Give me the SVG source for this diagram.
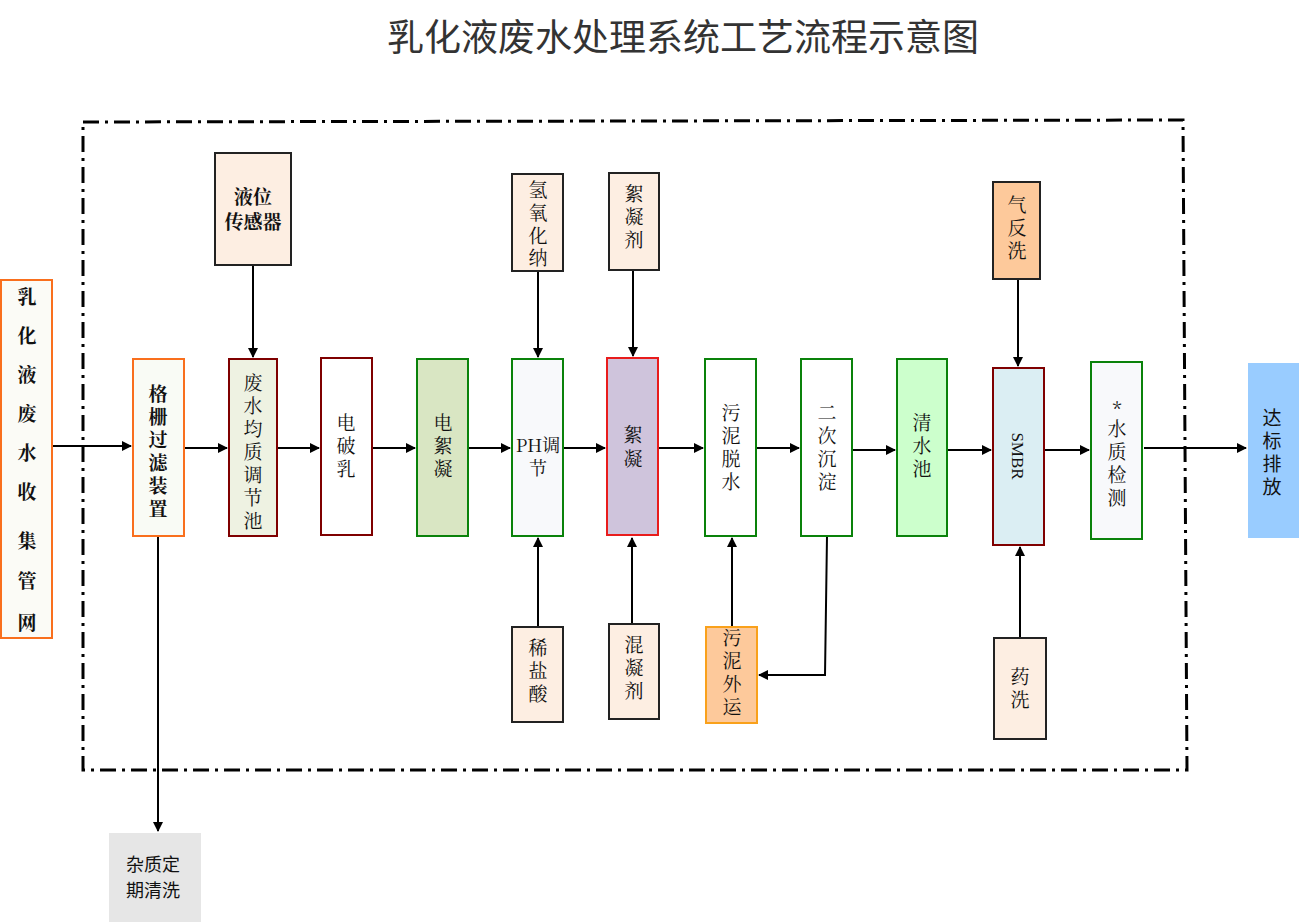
<svg xmlns="http://www.w3.org/2000/svg" width="1299" height="922" viewBox="0 0 1299 922">
<defs>
<marker id="ah" markerWidth="10" markerHeight="10" refX="9" refY="5" orient="auto" markerUnits="userSpaceOnUse"><path d="M0,0 L10,5 L0,10 z" fill="#000"/></marker>
<style>
text{font-family:"Noto Serif CJK SC","Noto Sans CJK SC",serif;font-size:19px;fill:#111;text-anchor:middle}
.c line,.c polyline{stroke:#000;stroke-width:2;fill:none;marker-end:url(#ah)}
rect{stroke-width:2}
.og{stroke:#f96f1d}.dr{stroke:#7f0000}.gr{stroke:#0a820a}.rd{stroke:#e81c1c}.bk{stroke:#222}.oa{stroke:#f9a11b}
</style>
</defs>
<rect width="1299" height="922" fill="#fff" stroke="none"/>
<text x="683" y="51" style="font-family:'Noto Sans CJK SC',sans-serif;font-size:37px;fill:#333">乳化液废水处理系统工艺流程示意图</text>
<polyline points="83,122 1183,120 1187,770 83,770 83,122" fill="none" stroke="#000" stroke-width="3" stroke-dasharray="16,6,3,6"/>
<g class="c">
<line x1="52" y1="446" x2="131" y2="446"/>
<line x1="184" y1="448" x2="227" y2="448"/>
<line x1="277" y1="448" x2="319" y2="448"/>
<line x1="372" y1="448" x2="415" y2="448"/>
<line x1="468" y1="448" x2="510" y2="448"/>
<line x1="563" y1="448" x2="605" y2="448"/>
<line x1="658" y1="448" x2="703" y2="448"/>
<line x1="756" y1="448" x2="799" y2="448"/>
<line x1="852" y1="450" x2="895" y2="450"/>
<line x1="947" y1="450" x2="991" y2="450"/>
<line x1="1044" y1="450" x2="1089" y2="450"/>
<line x1="1144" y1="448" x2="1246" y2="448"/>
<line x1="253" y1="265" x2="253" y2="357"/>
<line x1="538" y1="271" x2="538" y2="357"/>
<line x1="633" y1="270" x2="633" y2="356"/>
<line x1="1018" y1="279" x2="1018" y2="366"/>
<line x1="538" y1="627" x2="538" y2="538"/>
<line x1="632" y1="624" x2="632" y2="538"/>
<line x1="732" y1="627" x2="732" y2="538"/>
<line x1="1020" y1="638" x2="1020" y2="547"/>
<polyline points="827,536 825,675 759,675"/>
<line x1="158" y1="536" x2="158" y2="831"/>
</g>
<g id="n-src"><rect class="og" x="1" y="280" width="51" height="358" fill="#fbfbf6"/>
<text font-weight="bold"><tspan x="27" y="304">乳</tspan><tspan x="27" y="343">化</tspan><tspan x="27" y="382">液</tspan><tspan x="27" y="421">废</tspan><tspan x="27" y="460">水</tspan><tspan x="27" y="499">收</tspan><tspan x="27" y="548">集</tspan><tspan x="27" y="588">管</tspan><tspan x="27" y="630">网</tspan></text></g>
<g id="n-grid"><rect class="og" x="133" y="359" width="51" height="177" fill="#f9fbf5"/>
<text font-weight="bold"><tspan x="158" y="401">格</tspan><tspan x="158" y="424">栅</tspan><tspan x="158" y="447">过</tspan><tspan x="158" y="470">滤</tspan><tspan x="158" y="493">装</tspan><tspan x="158" y="516">置</tspan></text></g>
<g id="n-eq"><rect class="dr" x="229" y="359" width="48" height="177" fill="#eef2e2"/>
<text><tspan x="253" y="390">废</tspan><tspan x="253" y="413">水</tspan><tspan x="253" y="436">均</tspan><tspan x="253" y="459">质</tspan><tspan x="253" y="482">调</tspan><tspan x="253" y="505">节</tspan><tspan x="253" y="528">池</tspan></text></g>
<g id="n-pr"><rect class="dr" x="321" y="358" width="51" height="177" fill="#fff"/>
<text><tspan x="346" y="430">电</tspan><tspan x="346" y="453">破</tspan><tspan x="346" y="476">乳</tspan></text></g>
<g id="n-ec"><rect class="gr" x="417" y="359" width="51" height="177" fill="#d9e6c3"/>
<text><tspan x="443" y="430">电</tspan><tspan x="443" y="453">絮</tspan><tspan x="443" y="476">凝</tspan></text></g>
<g id="n-ph"><rect class="gr" x="512" y="359" width="51" height="177" fill="#f8f9fb"/>
<text style="font-size:18px"><tspan x="538" y="452">PH调</tspan><tspan x="538" y="475">节</tspan></text></g>
<g id="n-fl"><rect class="rd" x="607" y="358" width="51" height="177" fill="#cfc4dc"/>
<text><tspan x="633" y="442">絮</tspan><tspan x="633" y="466">凝</tspan></text></g>
<g id="n-dw"><rect class="gr" x="705" y="359" width="51" height="177" fill="#fff"/>
<text><tspan x="731" y="420">污</tspan><tspan x="731" y="443">泥</tspan><tspan x="731" y="466">脱</tspan><tspan x="731" y="489">水</tspan></text></g>
<g id="n-sd"><rect class="gr" x="801" y="359" width="51" height="177" fill="#fff"/>
<text><tspan x="827" y="420">二</tspan><tspan x="827" y="443">次</tspan><tspan x="827" y="466">沉</tspan><tspan x="827" y="489">淀</tspan></text></g>
<g id="n-cw"><rect class="gr" x="897" y="359" width="50" height="177" fill="#ccffcc"/>
<text><tspan x="922" y="430">清</tspan><tspan x="922" y="453">水</tspan><tspan x="922" y="476">池</tspan></text></g>
<g id="n-smbr"><rect class="dr" x="993" y="368" width="51" height="177" fill="#dbeef3"/>
<text transform="translate(1012,456) rotate(90)" style="font-family:'Liberation Serif',serif;font-size:17px">SMBR</text></g>
<g id="n-wq"><rect class="gr" x="1091" y="362" width="51" height="177" fill="#f8f9fb"/>
<text><tspan x="1117" y="416">*</tspan><tspan x="1117" y="436">水</tspan><tspan x="1117" y="459">质</tspan><tspan x="1117" y="482">检</tspan><tspan x="1117" y="505">测</tspan></text></g>
<g id="n-out"><rect x="1248" y="363" width="51" height="175" fill="#99ccff" stroke="none"/>
<text style="font-family:'Noto Sans CJK SC',sans-serif"><tspan x="1272" y="425">达</tspan><tspan x="1272" y="448">标</tspan><tspan x="1272" y="471">排</tspan><tspan x="1272" y="494">放</tspan></text></g>
<g id="n-ls"><rect class="bk" x="215" y="153" width="76" height="112" fill="#fdeee2"/>
<text font-weight="bold"><tspan x="253" y="204">液位</tspan><tspan x="253" y="229">传感器</tspan></text></g>
<g id="n-naoh"><rect class="bk" x="512" y="174" width="51" height="97" fill="#fdeee2"/>
<text><tspan x="538" y="197">氢</tspan><tspan x="538" y="220">氧</tspan><tspan x="538" y="243">化</tspan><tspan x="538" y="265">纳</tspan></text></g>
<g id="n-pam"><rect class="bk" x="609" y="173" width="50" height="97" fill="#fdeee2"/>
<text><tspan x="634" y="201">絮</tspan><tspan x="634" y="224">凝</tspan><tspan x="634" y="247">剂</tspan></text></g>
<g id="n-air"><rect class="bk" x="993" y="182" width="47" height="97" fill="#fdc99b"/>
<text><tspan x="1017" y="212">气</tspan><tspan x="1017" y="235">反</tspan><tspan x="1017" y="258">洗</tspan></text></g>
<g id="n-hcl"><rect class="bk" x="512" y="627" width="51" height="95" fill="#fdeee2"/>
<text><tspan x="538" y="655">稀</tspan><tspan x="538" y="678">盐</tspan><tspan x="538" y="701">酸</tspan></text></g>
<g id="n-pac"><rect class="bk" x="609" y="624" width="50" height="95" fill="#fdeee2"/>
<text><tspan x="634" y="652">混</tspan><tspan x="634" y="675">凝</tspan><tspan x="634" y="698">剂</tspan></text></g>
<g id="n-sl"><rect class="oa" x="706" y="627" width="51" height="96" fill="#fdc99b"/>
<text><tspan x="732" y="645">污</tspan><tspan x="732" y="668">泥</tspan><tspan x="732" y="691">外</tspan><tspan x="732" y="714">运</tspan></text></g>
<g id="n-chem"><rect class="bk" x="994" y="638" width="52" height="101" fill="#fdeee2"/>
<text><tspan x="1020" y="684">药</tspan><tspan x="1020" y="707">洗</tspan></text></g>
<g id="n-imp"><rect x="109" y="833" width="92" height="89" fill="#e6e6e6" stroke="none"/>
<text style="font-family:'Noto Sans CJK SC',sans-serif;font-size:18px"><tspan x="153" y="871">杂质定</tspan><tspan x="153" y="897">期清洗</tspan></text></g>
</svg>
